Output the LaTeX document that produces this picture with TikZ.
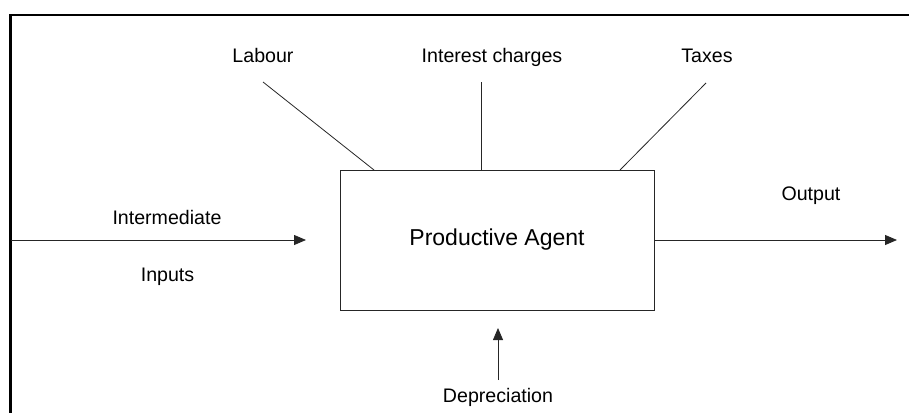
\documentclass[tikz,border=0pt]{standalone}
\usepackage{fontspec}
\setmainfont{Liberation Sans}
\usetikzlibrary{arrows.meta}
\begin{document}
\begin{tikzpicture}[x=1pt,y=-1pt,
  lbl/.style={font=\fontsize{19.6}{23}\selectfont, anchor=base, inner sep=0pt},
  thin line/.style={draw=black!85, line width=0.8pt},
  flow/.style={thin line, -{Triangle[length=12pt,width=10pt]}},
  agentbox/.style={draw=black!85, line width=0.9pt, minimum width=314pt, minimum height=140pt,
    inner sep=0pt, font=\fontsize{23}{27}\selectfont}]
  \useasboundingbox (0,0) rectangle (909,412);
  % frame
  \draw[line width=2.6pt, line cap=rect] (10.5,412) -- (10.5,15) -- (909,15);

  % central box
  \node[agentbox] (agent) at (497,240) {Productive Agent};

  % labels
  \node[lbl] (labour)   at (263,62.7) {Labour};
  \node[lbl] (interest) at (492,62.7) {Interest charges};
  \node[lbl] (taxes)    at (707,62.7) {Taxes};
  \node[lbl] (inter)    at (167,224)  {Intermediate};
  \node[lbl] (inputs)   at (167.5,281.5) {Inputs};
  \node[lbl] (output)   at (811,200.7) {Output};
  \node[lbl] (deprec)   at (498,402.7) {Depreciation};

  % connector end points
  \coordinate (labTop) at (263,82);
  \coordinate (intTop) at (481,82);
  \coordinate (taxTop) at (706,83);
  \coordinate (labBot) at (374,170);
  \coordinate (intBot) at (481,170);
  \coordinate (taxBot) at (620,170);
  \coordinate (inStart) at (11,240);
  \coordinate (inEnd) at (306,240);
  \coordinate (outEnd) at (897,240);
  \coordinate (depStart) at (498,380);
  \coordinate (depEnd) at (498,328);

  % cost lines into the agent
  \draw[thin line] (labTop) -- (labBot);
  \draw[thin line] (intTop) -- (intBot);
  \draw[thin line] (taxTop) -- (taxBot);

  % flows
  \draw[flow] (inStart) -- (inEnd);
  \draw[flow] (agent.east) -- (outEnd);
  \draw[flow] (depStart) -- (depEnd);
\end{tikzpicture}
\end{document}
